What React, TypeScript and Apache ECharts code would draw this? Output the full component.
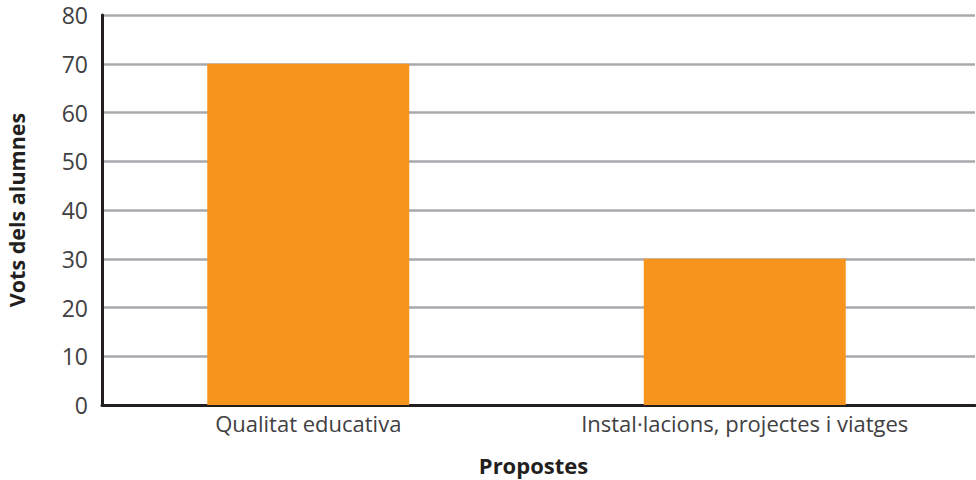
import React, { useEffect, useRef } from "react";
import * as echarts from "echarts";

const categories = ["Qualitat educativa", "Instal·lacions, projectes i viatges"];
const votes = [70, 30];
const yTicksMin = 0;
const yTicksMax = 80;
const yInterval = 10;

const FONT = "'Open Sans', sans-serif";
const TEXT = "#414042";

export default function App() {
  const ref = useRef<HTMLDivElement>(null);
  useEffect(() => {
    if (!ref.current) return;
    const chart = echarts.init(ref.current, undefined, { renderer: "svg" });
    chart.setOption({
      animation: false,
      grid: [
        { left: 102, right: 1, top: 15, bottom: 75, outerBoundsMode: "none", containLabel: false },
        { left: 90, right: 13, top: 15, bottom: 75, outerBoundsMode: "none", containLabel: false },
      ],
      xAxis: [
        {
          gridIndex: 0,
          type: "category",
          data: categories,
          axisLine: { show: true, lineStyle: { color: "#231f20", width: 3 } },
          axisTick: { show: false },
          axisLabel: { show: false },
          name: "Propostes",
          nameLocation: "middle",
          nameGap: 49,
          nameTextStyle: { fontFamily: FONT, fontSize: 22, fontWeight: "bold", color: "#231f20", padding: [0, 10, 0, 0] },
        },
        {
          gridIndex: 1,
          type: "category",
          data: categories,
          axisLine: { show: false },
          axisTick: { show: false },
          axisLabel: { fontFamily: FONT, fontSize: 22, color: TEXT, margin: 7 },
        },
      ],
      yAxis: [
        {
          gridIndex: 0,
          type: "value",
          min: yTicksMin,
          max: yTicksMax,
          interval: yInterval,
          axisLine: { show: true, lineStyle: { color: "#231f20", width: 3 } },
          axisTick: { show: false },
          axisLabel: { fontFamily: FONT, fontSize: 23, color: TEXT, margin: 14 },
          splitLine: { show: true, lineStyle: { color: "#a7a9ac", width: 2.5 } },
          name: "Vots dels alumnes",
          nameLocation: "middle",
          nameGap: 75,
          nameTextStyle: { fontFamily: FONT, fontSize: 21.5, fontWeight: "bold", color: "#231f20" },
        },
        {
          gridIndex: 1,
          type: "value",
          min: yTicksMin,
          max: yTicksMax,
          interval: yInterval,
          show: false,
          splitLine: { show: false },
        },
      ],
      series: [
        {
          type: "bar",
          xAxisIndex: 1,
          yAxisIndex: 1,
          data: votes,
          barWidth: 202,
          itemStyle: { color: "#f7941d" },
          z: 3,
        },
      ],
    });
    return () => chart.dispose();
  }, []);
  return (
    <div
      ref={ref}
      style={{ position: "absolute", left: 0, top: 0, width: 976, height: 480 }}
    />
  );
}
